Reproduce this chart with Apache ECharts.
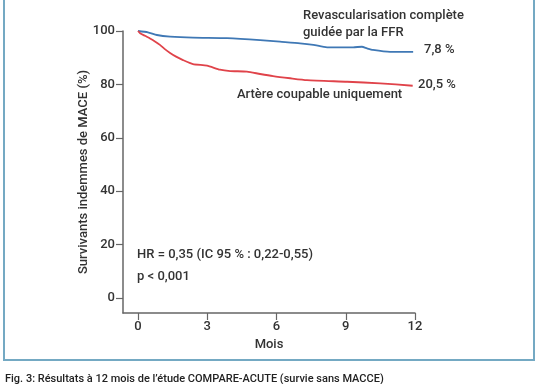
<!DOCTYPE html>
<html><head><meta charset="utf-8">
<script src="https://cdn.jsdelivr.net/npm/echarts@6/dist/echarts.min.js"></script>
<style>html,body{margin:0;padding:0;background:#fff}#c{width:538px;height:384px}</style>
</head><body><div id="c"></div>
<script>
// Data (months, survival %)
const xTicks = [0, 3, 6, 9, 12];
const yTicks = [0, 20, 40, 60, 80, 100];
const ffrMonths = [0, 0.43, 0.82, 1.39, 2.38, 3.86, 5.29, 6.15, 7.02, 7.6, 8.19, 9.32, 9.7, 9.92, 10.18, 10.92, 11.92];
const ffrValues = [100, 99.5, 98.5, 97.9, 97.5, 97.3, 96.6, 96.0, 95.4, 94.8, 93.9, 93.9, 94.1, 93.5, 92.9, 92.2, 92.2];
const culpritMonths = [0, 0.09, 0.3, 0.52, 0.75, 0.95, 1.15, 1.39, 1.65, 1.95, 2.38, 2.99, 3.55, 3.99, 4.72, 5.29, 5.85, 6.59, 7.32, 9.06, 10.49, 11.9];
const culpritValues = [100, 99.2, 98.2, 97.2, 96.0, 94.8, 93.3, 91.8, 90.4, 89.1, 87.6, 87.0, 85.5, 85.0, 84.8, 83.9, 83.1, 82.3, 81.6, 81.0, 80.4, 79.5];

const pair = (xs, ys) => xs.map((x, i) => [x, ys[i]]);
const font = 'Roboto, "Liberation Sans", sans-serif';
const txt = '#333';

const chart = echarts.init(document.getElementById('c'), null, {renderer: 'canvas'});
chart.setOption({
  animation: false,
  backgroundColor: '#fff',
  grid: {left: 123, right: 123, top: 31, bottom: 71, containLabel: false},
  xAxis: {
    type: 'value', min: -0.65, max: 12,
    name: 'Mois', nameLocation: 'middle', nameGap: 25,
    nameTextStyle: {color: txt, fontSize: 13, fontWeight: 500, fontFamily: font},
    axisLine: {onZero: false, lineStyle: {color: '#666', width: 1.5}},
    axisTick: {show: true, length: 7, lineStyle: {color: '#666', width: 1.2}, customValues: xTicks},
    axisLabel: {color: txt, fontSize: 13, fontWeight: 500, fontFamily: font, margin: 7, customValues: xTicks},
    splitLine: {show: false}
  },
  yAxis: {
    type: 'value', min: -5.6, max: 100,
    name: 'Survivants indemmes de MACE (%)', nameLocation: 'middle', nameGap: 33, nameMoveOverlap: false,
    nameTextStyle: {color: txt, fontSize: 13, fontWeight: 500, fontFamily: font},
    axisLine: {show: true, onZero: false, lineStyle: {color: '#666', width: 1.5}},
    axisTick: {show: true, length: 7, lineStyle: {color: '#666', width: 1.2}, customValues: yTicks},
    axisLabel: {color: txt, fontSize: 13, fontWeight: 500, fontFamily: font, margin: 8, customValues: yTicks},
    splitLine: {show: false}
  },
  series: [
    {type: 'line', name: 'FFR', data: pair(ffrMonths, ffrValues), showSymbol: false, smooth: 0.2,
     lineStyle: {color: '#3f78b5', width: 1.8}},
    {type: 'line', name: 'Culprit', data: pair(culpritMonths, culpritValues), showSymbol: false, smooth: 0.2,
     lineStyle: {color: '#e0434a', width: 1.8}}
  ],
  graphic: [
    {type: 'rect', shape: {x: 4, y: -10, width: 530, height: 370}, style: {fill: 'none', stroke: '#74a9c3', lineWidth: 2}, silent: true},
    {type: 'text', left: 303, top: 7, style: {text: 'Revascularisation complète\nguidée par la FFR', fill: txt, font: '500 13px ' + font, lineHeight: 17}},
    {type: 'text', left: 424, top: 43, style: {text: '7,8 %', fill: txt, font: '500 13px ' + font}},
    {type: 'text', left: 418, top: 78, style: {text: '20,5 %', fill: txt, font: '500 13px ' + font}},
    {type: 'text', left: 237, top: 88, style: {text: 'Artère coupable uniquement', fill: txt, font: '500 13px ' + font}},
    {type: 'text', left: 137, top: 248, style: {text: 'HR = 0,35 (IC 95 % : 0,22-0,55)', fill: txt, font: '500 13px ' + font}},
    {type: 'text', left: 137, top: 270, style: {text: 'p < 0,001', fill: txt, font: '500 13px ' + font}},
    {type: 'text', left: 5, top: 374, style: {text: 'Fig. 3: Résultats à 12 mois de l\u2019étude COMPARE-ACUTE (survie sans MACCE)', fill: '#222', font: '500 11px ' + font}}
  ]
});
</script></body></html>
